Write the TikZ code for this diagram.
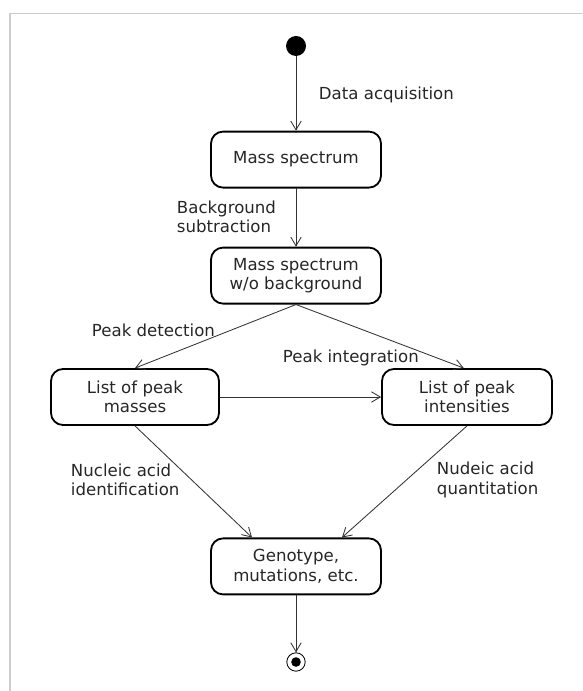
\documentclass[tikz,border=0pt]{standalone}
\usepackage{fontspec}
\setmainfont{DejaVu Sans}
\usetikzlibrary{arrows.meta,shapes.misc}

\tikzset{
  state/.style={draw,line width=1.3pt,rounded corners=0.3cm,minimum width=4.25cm,
    minimum height=1.4cm,align=center,font=\fontsize{11.8}{13.8}\selectfont,text=black!85},
  lbl/.style={anchor=west,align=left,font=\fontsize{11.8}{13.8}\selectfont,text=black!85},
  flow/.style={->,line width=0.6pt,draw=black!80}
}

\begin{document}
\begin{tikzpicture}[line cap=round,line join=round,x=1.0cm,y=1.0cm,
  >={Straight Barb[length=2.2mm,width=2.6mm]}]
\useasboundingbox (0,0) rectangle (14.55,-17.275);
% frame
\draw [line width=1.2pt,draw=black!20] (0.25,-17.275) -- (0.25,-0.3375) -- (14.55,-0.3375);

% states
\node [circle,fill=black,inner sep=0pt,minimum size=0.5cm] (start) at (7.4,-1.15) {};
\node [state] (ms) at (7.4,-3.99) {Mass spectrum};
\node [state] (msb) at (7.4,-6.89) {Mass spectrum\\w/o background};
\node [state,minimum width=4.2cm] (lpm) at (3.375,-9.925) {List of peak\\masses};
\node [state] (lpi) at (11.675,-9.925) {List of peak\\intensities};
\node [state] (geno) at (7.4,-14.16) {Genotype,\\mutations, etc.};
\node [circle,draw,line width=0.6pt,inner sep=0pt,minimum size=0.46cm] (stop) at (7.4,-16.55) {};
\node [circle,fill=black,inner sep=0pt,minimum size=0.24cm] at (stop) {};

% transitions
\draw [flow] (start) -- (ms);
\draw [flow] (ms) -- (msb);
\draw [flow] (msb.south) -- (lpm.north);
\draw [flow] (msb.south) -- ([xshift=-0.08cm]lpi.north);
\draw [flow] (lpm) -- (lpi);
\draw [flow] (lpm.south) -- ([xshift=-1.1cm]geno.north);
\draw [flow] (lpi.south) -- ([xshift=1.15cm]geno.north);
\draw [flow] (geno) -- (stop);

% labels
\node [lbl] (acq) at (7.85,-2.375) {Data acquisition};
\node [lbl] (bgs) at (4.3,-5.425) {Background\\subtraction};
\node [lbl] (pkd) at (2.175,-8.25) {Peak detection};
\node [lbl] (pki) at (6.95,-8.95) {Peak integration};
\node [lbl] (nai) at (1.65,-12.0) {Nucleic acid\\identification};
\node [lbl] (naq) at (10.8,-12.0) {Nudeic acid\\quantitation};
\end{tikzpicture}
\end{document}
